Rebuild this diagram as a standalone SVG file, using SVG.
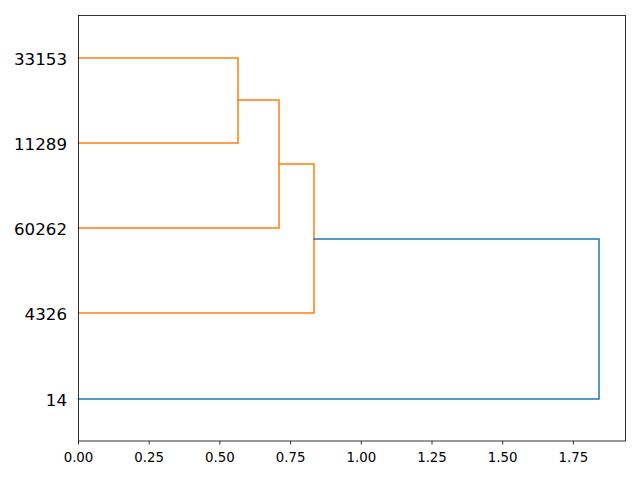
<svg xmlns="http://www.w3.org/2000/svg" width="640" height="480" viewBox="0 0 640 480">
<style>
.o{fill:none;stroke:#ff7f0e;stroke-width:1.5;stroke-linejoin:miter;stroke-linecap:square}
.b{fill:none;stroke:#1f77b4;stroke-width:1.5;stroke-linejoin:miter;stroke-linecap:square}
.yl{font-family:"DejaVu Sans",sans-serif;font-size:16.67px;text-anchor:end;fill:#000}
.xl{font-family:"DejaVu Sans",sans-serif;font-size:13.33px;text-anchor:middle;fill:#000}
.tk{stroke:#000;stroke-width:0.8}
</style>
<rect width="640" height="480" fill="#fff"/>
<g id="connectors">
<path class="o" d="M78.5,58 H238 V143 H78.5"/>
<path class="o" d="M238,100 H279 V228 H78.5"/>
<path class="o" d="M279,164 H314 V313 H78.5"/>
<path class="b" d="M314,239 H599 V399 H78.5"/>
</g>
<g id="axes">
<rect x="78.5" y="15.5" width="547" height="425.5" fill="none" stroke="#000" stroke-width="0.8"/>
<g class="tk">
<line x1="78.5" y1="441" x2="78.5" y2="444.5"/>
<line x1="149.2" y1="441" x2="149.2" y2="444.5"/>
<line x1="219.9" y1="441" x2="219.9" y2="444.5"/>
<line x1="290.6" y1="441" x2="290.6" y2="444.5"/>
<line x1="361.3" y1="441" x2="361.3" y2="444.5"/>
<line x1="432" y1="441" x2="432" y2="444.5"/>
<line x1="502.7" y1="441" x2="502.7" y2="444.5"/>
<line x1="573.4" y1="441" x2="573.4" y2="444.5"/>
</g>
<text class="xl" x="78.5" y="462.3">0.00</text>
<text class="xl" x="149.2" y="462.3">0.25</text>
<text class="xl" x="219.9" y="462.3">0.50</text>
<text class="xl" x="290.6" y="462.3">0.75</text>
<text class="xl" x="361.3" y="462.3">1.00</text>
<text class="xl" x="432" y="462.3">1.25</text>
<text class="xl" x="502.7" y="462.3">1.50</text>
<text class="xl" x="573.4" y="462.3">1.75</text>
</g>
<g id="leaf-33153"><text class="yl" x="67" y="64.5">33153</text></g>
<g id="leaf-11289"><text class="yl" x="67" y="149.5">11289</text></g>
<g id="leaf-60262"><text class="yl" x="67" y="234.5">60262</text></g>
<g id="leaf-4326"><text class="yl" x="67" y="319.5">4326</text></g>
<g id="leaf-14"><text class="yl" x="67" y="405.5">14</text></g>
</svg>
